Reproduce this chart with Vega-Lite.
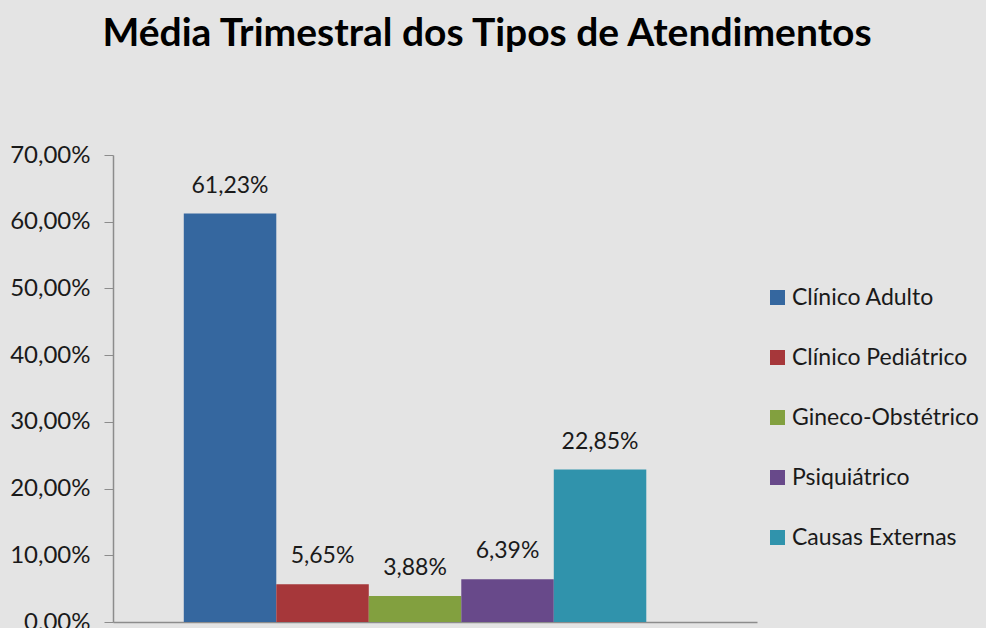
{
  "$schema": "https://vega.github.io/schema/vega-lite/v6.json",
  "autosize": "none",
  "width": 644,
  "height": 467,
  "padding": {"left": 113, "top": 155, "right": 229, "bottom": 6},
  "background": "#e4e4e4",
  "title": {
    "text": "Média Trimestral dos Tipos de Atendimentos",
    "font": "Lato",
    "fontSize": 39,
    "fontWeight": "bold",
    "color": "#000000",
    "anchor": "middle",
    "frame": "group",
    "baseline": "alphabetic",
    "offset": 58,
    "dx": 52
  },
  "config": {
    "view": {"stroke": null},
    "font": "Lato",
    "locale": {
      "number": {"decimal": ",", "thousands": ".", "grouping": [3], "currency": ["R$", ""]}
    }
  },
  "data": {
    "values": [
      {"tipo": "Clínico Adulto", "valor": 0.6123},
      {"tipo": "Clínico Pediátrico", "valor": 0.0565},
      {"tipo": "Gineco-Obstétrico", "valor": 0.0388},
      {"tipo": "Psiquiátrico", "valor": 0.0639},
      {"tipo": "Causas Externas", "valor": 0.2285}
    ]
  },
  "encoding": {
    "x": {
      "field": "tipo",
      "type": "nominal",
      "sort": null,
      "scale": {"paddingInner": 0, "paddingOuter": 0.981, "align": 0.39},
      "axis": {
        "title": null,
        "labels": false,
        "ticks": false,
        "domain": true,
        "domainColor": "#8c8c8c",
        "domainWidth": 1.5,
        "grid": false
      }
    },
    "y": {
      "field": "valor",
      "type": "quantitative",
      "scale": {"domain": [0, 0.7], "nice": false},
      "axis": {
        "title": null,
        "values": [0, 0.1, 0.2, 0.3, 0.4, 0.5, 0.6, 0.7],
        "format": ".2%",
        "labelFont": "Lato",
        "labelFontSize": 24,
        "labelColor": "#1a1a1a",
        "labelPadding": 14,
        "tickSize": 9,
        "tickColor": "#8c8c8c",
        "domainColor": "#8c8c8c",
        "domainWidth": 1.5,
        "grid": false
      }
    }
  },
  "layer": [
    {
      "mark": {"type": "bar"},
      "encoding": {
        "color": {
          "field": "tipo",
          "type": "nominal",
          "sort": null,
          "scale": {
            "domain": ["Clínico Adulto", "Clínico Pediátrico", "Gineco-Obstétrico", "Psiquiátrico", "Causas Externas"],
            "range": ["#35679F", "#A6373A", "#82A03F", "#68498A", "#3093AC"]
          },
          "legend": {
            "title": null,
            "orient": "none",
            "legendX": 653,
            "legendY": 131,
            "symbolType": "square",
            "symbolSize": 225,
            "symbolStrokeWidth": 0,
            "symbolOpacity": 1,
            "labelFont": "Lato",
            "labelFontSize": 23,
            "labelColor": "#1a1a1a",
            "labelOffset": 3,
            "rowPadding": 36,
            "labelLimit": 300
          }
        }
      }
    },
    {
      "mark": {"type": "text", "baseline": "alphabetic", "dy": -21, "fontSize": 23, "font": "Lato", "color": "#1a1a1a"},
      "encoding": {
        "text": {"field": "valor", "type": "quantitative", "format": ".2%"}
      }
    }
  ]
}
